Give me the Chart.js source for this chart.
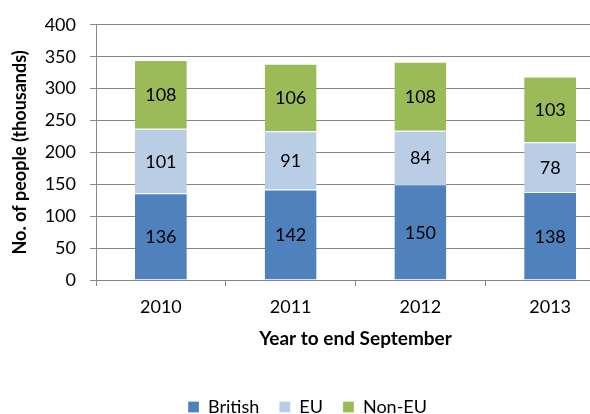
<!DOCTYPE html>
<html>
<head>
<meta charset="utf-8">
<script src="https://cdn.jsdelivr.net/npm/chart.js@4"></script>
<style>
  html, body { margin: 0; padding: 0; background: #fff; overflow: hidden; }
  #wrap { width: 615px; height: 414px; }
</style>
</head>
<body>
<div id="wrap"><canvas id="myChart" width="615" height="414"></canvas></div>
<script>
var years = ['2010', '2011', '2012', '2013'];
var british = [136, 142, 150, 138];
var eu = [101, 91, 84, 78];
var nonEu = [108, 106, 108, 103];
var yTicks = [0, 50, 100, 150, 200, 250, 300, 350, 400];

var font = 'Lato, "Open Sans", sans-serif';
var gridGrey = '#868686';

// write the value in the middle of each bar segment
var barLabels = {
  id: 'barLabels',
  afterDatasetsDraw: function (chart) {
    var ctx = chart.ctx;
    ctx.save();
    ctx.font = '18px ' + font;
    ctx.fillStyle = '#000';
    ctx.textAlign = 'center';
    ctx.textBaseline = 'middle';
    chart.data.datasets.forEach(function (ds, i) {
      chart.getDatasetMeta(i).data.forEach(function (bar, j) {
        var mid = (bar.y + bar.base) / 2;
        ctx.fillText(ds.data[j], bar.x, mid + 1);
      });
    });
    ctx.restore();
  }
};

var ctx = document.getElementById('myChart').getContext('2d');
var myChart = new Chart(ctx, {
  type: 'bar',
  data: {
    labels: years,
    datasets: [
      { label: 'British', data: british, backgroundColor: '#4F81BD' },
      { label: 'EU', data: eu, backgroundColor: '#B9CDE5' },
      { label: 'Non-EU', data: nonEu, backgroundColor: '#9BBB59' }
    ]
  },
  plugins: [barLabels],
  options: {
    responsive: false,
    animation: false,
    datasets: {
      bar: {
        categoryPercentage: 0.8,
        barPercentage: 0.5,
        borderWidth: { top: 1 },
        borderColor: '#ffffff',
        borderSkipped: false
      }
    },
    layout: { padding: { top: 19, left: 0, right: 0, bottom: -12 } },
    plugins: {
      legend: {
        position: 'bottom',
        labels: {
          boxWidth: 11,
          boxHeight: 11,
          padding: 20,
          color: '#000',
          font: { family: font, size: 18 }
        }
      },
      tooltip: { enabled: false }
    },
    scales: {
      x: {
        stacked: true,
        grid: {
          offset: true,
          drawOnChartArea: false,
          drawTicks: true,
          tickLength: 6,
          color: gridGrey
        },
        border: { color: gridGrey, width: 1 },
        ticks: { color: '#000', padding: 10, font: { family: font, size: 18 } },
        title: {
          display: true,
          text: 'Year to end September',
          color: '#000',
          font: { family: font, size: 19, weight: 'bold' },
          padding: { top: 0, bottom: 28 }
        },
        afterFit: function (scale) { scale.height = 98; }
      },
      y: {
        stacked: true,
        min: 0,
        max: 400,
        afterBuildTicks: function (scale) {
          scale.ticks = yTicks.map(function (v) { return { value: v }; });
        },
        grid: { color: gridGrey, tickLength: 6 },
        border: { color: gridGrey, width: 1 },
        ticks: { color: '#000', padding: 14, font: { family: font, size: 18 } },
        title: {
          display: true,
          text: 'No. of people (thousands)',
          color: '#000',
          font: { family: font, size: 18, weight: 'bold' },
          padding: { top: 9, bottom: 0 }
        },
        afterFit: function (scale) { scale.width = 96; }
      }
    }
  }
});
</script>
</body>
</html>
